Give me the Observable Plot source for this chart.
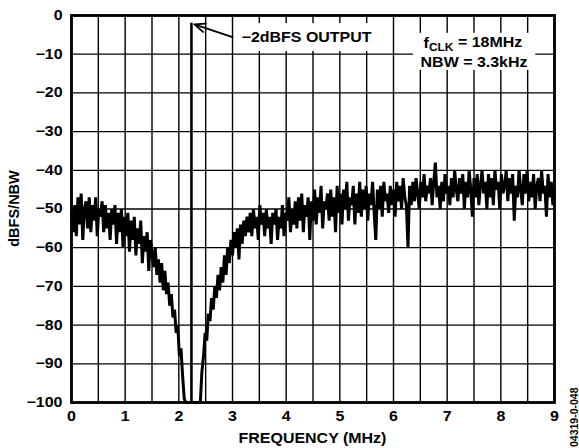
<!DOCTYPE html>
<html><head><meta charset="utf-8">
<script src="https://cdn.jsdelivr.net/npm/d3@7"></script>
<script src="https://cdn.jsdelivr.net/npm/@observablehq/plot@0.6"></script>
<style>
html,body{margin:0;padding:0;background:#fff;}
svg{display:block;}
</style></head><body><div id="chart"></div>
<script>
// ---- data ----
const freqStartMHz = 0;
const freqStepMHz = 0.03;
const noiseDbfs = [
  -51,-56,-49,-57,-47,-54,-46,-58,-50,-48,
  -55,-47,-56,-49,-53,-47,-57,-50,-52,-48,
  -56,-49,-55,-51,-58,-50,-54,-49,-59,-51,
  -56,-50,-60,-52,-57,-51,-61,-53,-58,-52,
  -62,-55,-59,-53,-64,-57,-61,-56,-66,-58,
  -61,-65,-60,-67,-63,-69,-64,-71,-66,-72,
  -69,-75,-72,-78,-76,-82,-80,-88,-86,-93,
  -99,-100,-100,-100,-100,-100,-100,-100,-100,-100,
  -100,-92,-88,-82,-84,-77,-79,-73,-76,-70,
  -73,-67,-71,-65,-69,-62,-67,-60,-64,-58,
  -62,-56,-60,-55,-63,-54,-59,-53,-57,-52,
  -56,-51,-57,-50,-55,-52,-58,-49,-54,-51,
  -57,-50,-55,-52,-59,-51,-54,-50,-58,-52,
  -55,-49,-57,-51,-53,-47,-56,-50,-54,-48,
  -55,-47,-53,-46,-56,-49,-52,-47,-58,-48,
  -53,-45,-54,-47,-51,-44,-55,-48,-50,-46,
  -53,-45,-52,-47,-56,-44,-51,-46,-54,-45,
  -50,-43,-53,-47,-49,-44,-54,-46,-51,-43,
  -52,-45,-50,-44,-53,-46,-49,-43,-51,-58,
  -45,-50,-44,-52,-43,-48,-46,-51,-44,-49,
  -45,-52,-43,-48,-44,-50,-42,-47,-49,-60,
  -44,-49,-43,-48,-42,-46,-50,-43,-47,-41,
  -48,-44,-46,-42,-49,-43,-38,-47,-44,-50,
  -43,-48,-41,-46,-44,-49,-42,-47,-40,-45,
  -48,-42,-46,-41,-50,-43,-47,-40,-45,-52,
  -42,-47,-41,-49,-44,-40,-46,-43,-50,-41,
  -47,-42,-49,-40,-45,-43,-50,-41,-46,-44,
  -40,-48,-42,-46,-41,-53,-44,-47,-40,-45,
  -49,-41,-46,-40,-48,-43,-47,-41,-50,-44,
  -42,-48,-40,-46,-44,-52,-41,-47,-43,-49,-45
];
const toneFreqMHz = 2.235;
const toneLevelDbfs = -2;
const floorDbfs = -100;
const xTicks = [0,1,2,3,4,5,6,7,8,9];
const xGridLines = [0,0.5,1,1.5,2,2.5,3,3.5,4,4.5,5,5.5,6,6.5,7,7.5,8,8.5,9];
const yTicks = [0,-10,-20,-30,-40,-50,-60,-70,-80,-90,-100];
const toneLabel = "−2dBFS OUTPUT";
const condLine1 = "fCLK = 18MHz";
const condLine2 = "NBW = 3.3kHz";
const xTitle = "FREQUENCY (MHz)";
const yTitle = "dBFS/NBW";
const figCode = "04319-0-048";

// ---- build ----
const trace = noiseDbfs.map((v, i) => ({f: +(freqStartMHz + i * freqStepMHz).toFixed(3), db: v}));
const FONT = "'Liberation Sans', Arial, Helvetica, sans-serif";
const STRETCH = 1.14;

const chart = Plot.plot({
  width: 579, height: 448,
  marginLeft: 71, marginRight: 25, marginTop: 15, marginBottom: 46,
  style: {fontFamily: FONT, fontWeight: "bold", fontSize: "14px", color: "#000", background: "#fff", overflow: "visible"},
  x: {domain: [0, 9]},
  y: {domain: [-100, 0]},
  marks: [
    Plot.ruleX(xGridLines, {stroke: "#000", strokeWidth: 1.4}),
    Plot.ruleY(yTicks, {stroke: "#000", strokeWidth: 1.3}),
    // white label boxes
    Plot.rect([{x1: 3.06, x2: 5.75, y1: -2.1, y2: -9.3}], {x1: "x1", x2: "x2", y1: "y1", y2: "y2", fill: "#fff"}),
    Plot.rect([{x1: 6.37, x2: 8.65, y1: -4.6, y2: -14.2}], {x1: "x1", x2: "x2", y1: "y1", y2: "y2", fill: "#fff"}),
    Plot.text([toneLabel], {x: 4.38, y: -5.7, text: d => d, fontSize: 14, fontWeight: "bold", textAnchor: "middle", className: "stretch"}),
    Plot.text([condLine1], {x: 7.48, y: -7.3, text: d => d, fontSize: 14, fontWeight: "bold", textAnchor: "middle", className: "stretch"}),
    Plot.text([condLine2], {x: 7.5, y: -12.1, text: d => d, fontSize: 14, fontWeight: "bold", textAnchor: "middle", className: "stretch"}),
    Plot.arrow([{x1: 3.0, y1: -5.6, x2: 2.29, y2: -2.3}], {x1: "x1", y1: "y1", x2: "x2", y2: "y2", stroke: "#000", strokeWidth: 1.9, headLength: 9, headAngle: 45}),
    Plot.line(trace, {x: "f", y: "db", stroke: "#000", strokeWidth: 3, strokeLinejoin: "miter", strokeMiterlimit: 3}),
    Plot.ruleX([toneFreqMHz], {y1: floorDbfs, y2: toneLevelDbfs, stroke: "#000", strokeWidth: 2.6}),
    Plot.frame({stroke: "#000", strokeWidth: 2.8}),
    Plot.axisX(xTicks, {tickSize: 0, tickPadding: 9, label: null, fontSize: 14, fontWeight: "bold", tickFormat: d => String(d), className: "stretch"}),
    Plot.axisY(yTicks, {tickSize: 0, tickPadding: 9, label: null, fontSize: 14, fontWeight: "bold", className: "stretch"})
  ]
});

document.getElementById("chart").appendChild(chart);

const svg = d3.select(chart);
// subscript for fCLK
svg.selectAll("text").filter(function(){ return this.textContent === condLine1; }).each(function(){
  const t = d3.select(this);
  t.text(null);
  t.append("tspan").text("f");
  t.append("tspan").attr("font-size", 10.5).attr("dy", "0.3em").text("CLK");
  t.append("tspan").attr("dy", "-0.3em").text(" = 18MHz");
});

svg.append("text")
  .attr("x", 312.5).attr("y", 443)
  .attr("text-anchor", "middle")
  .attr("font-family", FONT).attr("font-weight", "bold").attr("font-size", 14)
  .attr("fill", "#000")
  .attr("class", "stretchOne")
  .text(xTitle);

svg.append("text")
  .attr("transform", "translate(19,208.5) rotate(-90)")
  .attr("text-anchor", "middle")
  .attr("font-family", FONT).attr("font-weight", "bold").attr("font-size", 14.5)
  .attr("fill", "#000")
  .text(yTitle);

svg.append("text")
  .attr("transform", "translate(578,447) rotate(-90)")
  .attr("text-anchor", "start")
  .attr("font-family", FONT).attr("font-weight", "bold").attr("font-size", 10.5)
  .attr("fill", "#000")
  .text(figCode);

// horizontal stretch of upright text to match the reference's wide lettering
svg.selectAll(".stretch text, text.stretchOne").each(function(){
  const len = this.getComputedTextLength();
  if (len > 0) {
    this.setAttribute("textLength", (len * STRETCH).toFixed(2));
    this.setAttribute("lengthAdjust", "spacingAndGlyphs");
  }
});
</script>
</body></html>
